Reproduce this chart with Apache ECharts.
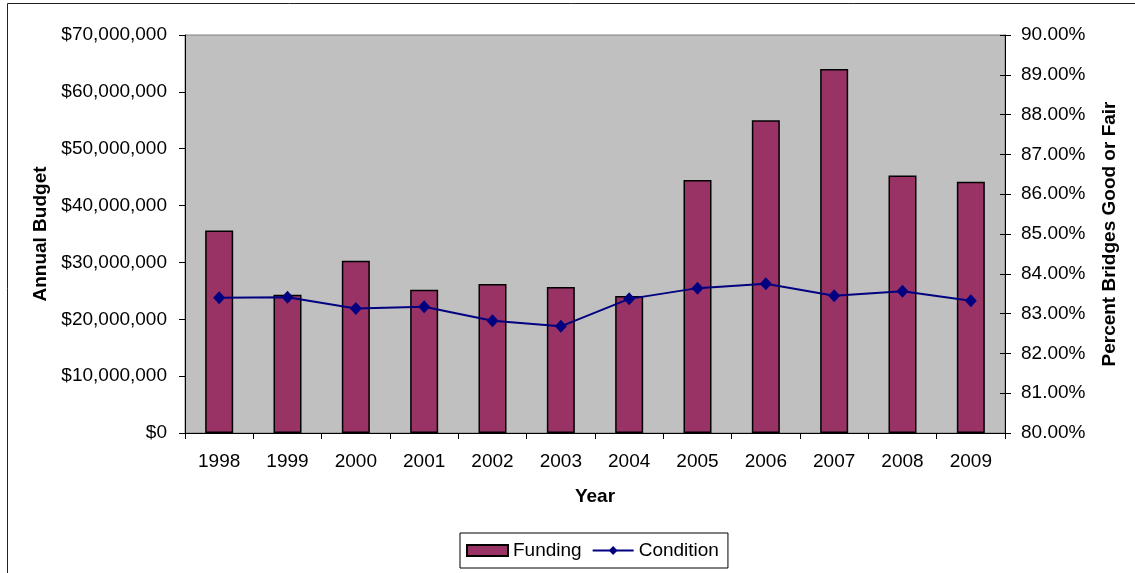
<!DOCTYPE html>
<html>
<head>
<meta charset="utf-8">
<script src="https://cdn.jsdelivr.net/npm/echarts@6/dist/echarts.min.js"></script>
<style>
html,body{margin:0;padding:0;background:#fff;}
#chart{width:1135px;height:573px;}
</style>
</head>
<body>
<div id="chart"></div>
<script>
const years = ['1998','1999','2000','2001','2002','2003','2004','2005','2006','2007','2008','2009'];
const funding = [35600000, 24300000, 30300000, 25200000, 26200000, 25700000, 24100000, 44500000, 55000000, 64000000, 45300000, 44200000];
const condition = [83.40, 83.41, 83.13, 83.17, 82.82, 82.68, 83.37, 83.64, 83.75, 83.45, 83.56, 83.32];

const FONT = '"Liberation Sans", Arial, sans-serif';
const chart = echarts.init(document.getElementById('chart'), null, {renderer: 'canvas'});

function money(v) {
  return '$' + String(Math.round(v)).replace(/\B(?=(\d{3})+(?!\d))/g, ',');
}

chart.setOption({
  animation: false,
  backgroundColor: '#ffffff',
  textStyle: {fontFamily: FONT},
  graphic: [{
    type: 'rect',
    shape: {x: 7.5, y: 3.5, width: 1200, height: 700},
    style: {fill: 'none', stroke: '#222', lineWidth: 1},
    z: 100
  }],
  grid: {
    left: 185, right: 130, top: 35, bottom: 140,
    show: true, backgroundColor: '#c0c0c0', borderColor: '#808080', borderWidth: 1
  },
  legend: {
    left: 460, top: 533,
    padding: [8, 9, 8, 6],
    itemGap: 10,
    itemWidth: 41, itemHeight: 11,
    backgroundColor: '#fff', borderColor: '#000', borderWidth: 1,
    textStyle: {fontFamily: FONT, fontSize: 19, color: '#000'},
    data: [
      {name: 'Funding', icon: 'rect'},
      {name: 'Condition'}
    ]
  },
  xAxis: {
    type: 'category',
    data: years,
    name: 'Year',
    nameLocation: 'middle',
    nameGap: 54,
    nameTextStyle: {fontFamily: FONT, fontSize: 19, fontWeight: 'bold', color: '#000'},
    axisLine: {lineStyle: {color: '#000', width: 1}},
    axisTick: {show: true, length: 6, lineStyle: {color: '#000'}},
    axisLabel: {fontFamily: FONT, fontSize: 19, color: '#000', margin: 19},
    splitLine: {show: false}
  },
  yAxis: [{
    type: 'value',
    min: 0, max: 70000000, interval: 10000000,
    position: 'left',
    name: 'Annual Budget',
    nameLocation: 'middle',
    nameGap: 130,
    nameTextStyle: {fontFamily: FONT, fontSize: 19, fontWeight: 'bold', color: '#000'},
    axisLine: {show: true, lineStyle: {color: '#000', width: 1}},
    axisTick: {show: true, length: 6, lineStyle: {color: '#000'}},
    axisLabel: {fontFamily: FONT, fontSize: 19, color: '#000', margin: 18, formatter: money},
    splitLine: {show: false}
  }, {
    type: 'value',
    min: 80, max: 90, interval: 1,
    position: 'right',
    name: 'Percent Bridges Good or Fair',
    nameLocation: 'middle',
    nameGap: 95,
    nameRotate: 90,
    nameTextStyle: {fontFamily: FONT, fontSize: 19, fontWeight: 'bold', color: '#000'},
    axisLine: {show: true, lineStyle: {color: '#000', width: 1}},
    axisTick: {show: true, length: 6, lineStyle: {color: '#000'}},
    axisLabel: {fontFamily: FONT, fontSize: 19, color: '#000', margin: 16, formatter: v => v.toFixed(2) + '%'},
    splitLine: {show: false}
  }, {
    type: 'value',
    min: 80, max: 90, interval: 1,
    position: 'right',
    axisLine: {show: false},
    axisTick: {show: true, inside: true, length: 5, lineStyle: {color: '#000'}},
    axisLabel: {show: false},
    splitLine: {show: false}
  }],
  series: [{
    name: 'Funding',
    type: 'bar',
    data: funding,
    yAxisIndex: 0,
    barWidth: 28,
    itemStyle: {color: '#993366', borderColor: '#000', borderWidth: 1.5},
    z: 2
  }, {
    name: 'Condition',
    type: 'line',
    data: condition,
    yAxisIndex: 1,
    symbol: 'diamond',
    symbolSize: [12, 13],
    lineStyle: {color: '#000080', width: 2},
    itemStyle: {color: '#000080'},
    z: 3
  }]
});
</script>
</body>
</html>
